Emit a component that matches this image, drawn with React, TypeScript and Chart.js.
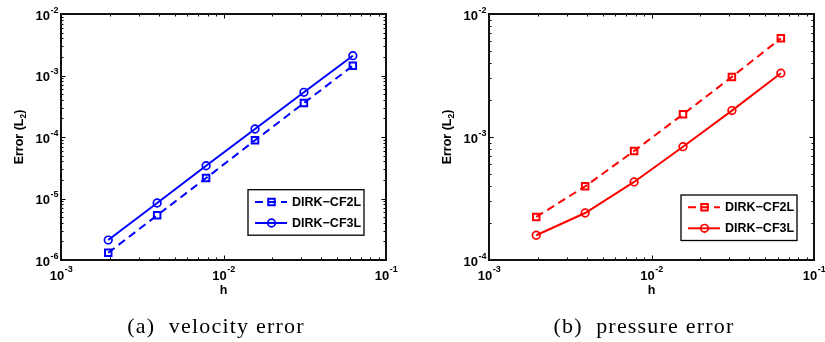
import React, { useEffect, useRef } from "react";
import { Chart, registerables } from "chart.js";

Chart.register(...registerables);

// ---------------- data ----------------
const hValues = [0.001953, 0.003906, 0.007813, 0.015625, 0.03125, 0.0625];
const velocityErrorCF2L = [1.31e-6, 5.33e-6, 2.15e-5, 8.83e-5, 3.57e-4, 1.44e-3];
const velocityErrorCF3L = [2.11e-6, 8.45e-6, 3.41e-5, 1.35e-4, 5.33e-4, 2.1e-3];
const pressureErrorCF2L = [2.24e-4, 3.97e-4, 7.69e-4, 1.53e-3, 3.08e-3, 6.34e-3];
const pressureErrorCF3L = [1.59e-4, 2.41e-4, 4.31e-4, 8.34e-4, 1.64e-3, 3.3e-3];
const seriesLabels = ["DIRK\u2212CF2L", "DIRK\u2212CF3L"];
const xTickExponents = [-3, -2, -1];
const velocityTickExponents = [-6, -5, -4, -3, -2];
const pressureTickExponents = [-4, -3, -2];
const xAxisTitle = "h";
const yAxisTitleMain = "Error (L";
const yAxisTitleSub = "2";
const yAxisTitleEnd = ")";
const captions = ["(a)  velocity error", "(b)  pressure error"];

const SANS = '"Liberation Sans", Arial, Helvetica, sans-serif';
const SERIF = '"Liberation Serif", "Times New Roman", serif';

const matlabAxesPlugin = {
  id: "matlabAxes",
  afterDraw(chart: any, _args: any, opts: any) {
    const ctx: any = chart.ctx;
    const { left, right, top, bottom } = chart.chartArea;
    const xs = chart.scales.x;
    const ys = chart.scales.y;
    const xe: number[] = opts.xExps;
    const ye: number[] = opts.yExps;
    ctx.save();

    // ticks (major + minor), mirrored on all sides
    ctx.strokeStyle = "#000";
    ctx.lineWidth = 1;
    ctx.beginPath();
    for (let i = 0; i < xe.length; i++) {
      for (let k = 1; k <= 9; k++) {
        if (i === xe.length - 1 && k > 1) break;
        const p = Math.round(xs.getPixelForValue(k * Math.pow(10, xe[i]))) + 0.5;
        const len = k === 1 ? 4.5 : 2.5;
        ctx.moveTo(p, bottom);
        ctx.lineTo(p, bottom - len);
        ctx.moveTo(p, top);
        ctx.lineTo(p, top + len);
      }
    }
    for (let i = 0; i < ye.length; i++) {
      for (let k = 1; k <= 9; k++) {
        if (i === ye.length - 1 && k > 1) break;
        const p = Math.round(ys.getPixelForValue(k * Math.pow(10, ye[i]))) + 0.5;
        const len = k === 1 ? 4.5 : 2.5;
        ctx.moveTo(left, p);
        ctx.lineTo(left + len, p);
        ctx.moveTo(right, p);
        ctx.lineTo(right - len, p);
      }
    }
    ctx.stroke();

    // frame
    ctx.lineWidth = 2;
    ctx.strokeStyle = "#111";
    ctx.strokeRect(left, top, right - left, bottom - top);

    // tick labels
    const baseFont = `bold 13px ${SANS}`;
    const expFont = `bold 9px ${SANS}`;
    ctx.fillStyle = "#000";
    ctx.textBaseline = "alphabetic";
    ctx.textAlign = "left";
    const measure = (e: number) => {
      ctx.font = baseFont;
      const wb = ctx.measureText("10").width;
      ctx.font = expFont;
      const we = ctx.measureText(String(e)).width;
      return [wb, we];
    };
    for (const e of xe) {
      const px = xs.getPixelForValue(Math.pow(10, e));
      const [wb, we] = measure(e);
      const x0 = px - (wb + we) / 2;
      ctx.font = baseFont;
      ctx.fillText("10", x0, bottom + 20);
      ctx.font = expFont;
      ctx.fillText(String(e), x0 + wb + 0.5, bottom + 11.5);
    }
    for (const e of ye) {
      const py = ys.getPixelForValue(Math.pow(10, e));
      const [wb, we] = measure(e);
      const x0 = left - 3 - (wb + we);
      ctx.font = baseFont;
      ctx.fillText("10", x0, py + 5.5);
      ctx.font = expFont;
      ctx.fillText(String(e), x0 + wb + 0.5, py - 1.5);
    }

    // x title
    ctx.font = `bold 12.5px ${SANS}`;
    ctx.textAlign = "center";
    ctx.fillText(opts.xTitle, (left + right) / 2, bottom + 33.5);

    // y title (rotated, with subscript)
    ctx.save();
    ctx.translate(left - opts.yTitleOffset, (top + bottom) / 2);
    ctx.rotate(-Math.PI / 2);
    ctx.textAlign = "left";
    ctx.font = `bold 12.5px ${SANS}`;
    const w1 = ctx.measureText(opts.yTitle[0]).width;
    const w3 = ctx.measureText(opts.yTitle[2]).width;
    ctx.font = `bold 8.5px ${SANS}`;
    const w2 = ctx.measureText(opts.yTitle[1]).width;
    let tx = -(w1 + w2 + w3) / 2;
    ctx.font = `bold 12.5px ${SANS}`;
    ctx.fillText(opts.yTitle[0], tx, 0);
    tx += w1;
    ctx.font = `bold 8.5px ${SANS}`;
    ctx.fillText(opts.yTitle[1], tx, 3);
    tx += w2;
    ctx.font = `bold 12.5px ${SANS}`;
    ctx.fillText(opts.yTitle[2], tx, 0);
    ctx.restore();

    // legend
    const lg = opts.legend;
    const bx = right + lg.dx;
    const by = bottom + lg.dy;
    ctx.fillStyle = "#fff";
    ctx.fillRect(bx, by, lg.w, lg.h);
    ctx.lineWidth = 1.3;
    ctx.strokeStyle = "#000";
    ctx.strokeRect(bx, by, lg.w, lg.h);
    const rows = [12.3, 33.3];
    chart.data.datasets.forEach((ds: any, i: number) => {
      const ry = by + rows[i];
      ctx.strokeStyle = ds.borderColor;
      ctx.lineWidth = ds.borderWidth;
      ctx.setLineDash(ds.borderDash || []);
      ctx.beginPath();
      ctx.moveTo(bx + 7, ry);
      ctx.lineTo(bx + 39, ry);
      ctx.stroke();
      ctx.setLineDash([]);
      const mx = bx + 23.5;
      ctx.lineWidth = ds.pointBorderWidth;
      ctx.beginPath();
      if (ds.pointStyle === "rect") {
        const s = Math.SQRT1_2 * ds.pointRadius;
        ctx.rect(mx - s, ry - s, 2 * s, 2 * s);
      } else {
        ctx.arc(mx, ry, ds.pointRadius, 0, Math.PI * 2);
      }
      ctx.stroke();
      ctx.fillStyle = "#000";
      ctx.font = `bold 12.5px ${SANS}`;
      ctx.textAlign = "left";
      ctx.textBaseline = "middle";
      ctx.fillText(ds.label, bx + 44, ry + 0.5);
      ctx.textBaseline = "alphabetic";
    });

    // caption
    ctx.fillStyle = "#000";
    ctx.font = `22px ${SERIF}`;
    ctx.letterSpacing = "1.2px";
    ctx.textAlign = "center";
    ctx.fillText(opts.caption, (left + right) / 2 + opts.captionDx, 333);
    ctx.letterSpacing = "0px";

    ctx.restore();
  },
};

function makeDataset(label: string, ys: number[], color: string, dashed: boolean) {
  return {
    label,
    data: hValues.map((h, i) => ({ x: h, y: ys[i] })),
    borderColor: color,
    backgroundColor: "rgba(0,0,0,0)",
    borderWidth: 2,
    borderDash: dashed ? [8, 5] : [],
    pointStyle: dashed ? "rect" : "circle",
    pointRadius: dashed ? 4.6 : 3.8,
    pointBorderWidth: dashed ? 2 : 1.7,
    pointBorderColor: color,
    pointBackgroundColor: "rgba(0,0,0,0)",
    tension: 0,
    fill: false,
  };
}

function makeConfig(
  cf2: number[],
  cf3: number[],
  color: string,
  yExps: number[],
  padding: any,
  legend: any,
  caption: string
): any {
  return {
    type: "line",
    data: {
      datasets: [makeDataset(seriesLabels[0], cf2, color, true), makeDataset(seriesLabels[1], cf3, color, false)],
    },
    options: {
      responsive: false,
      animation: false,
      devicePixelRatio: 1,
      layout: { padding },
      scales: {
        x: { type: "logarithmic", min: Math.pow(10, xTickExponents[0]), max: Math.pow(10, xTickExponents[xTickExponents.length - 1]), display: false },
        y: { type: "logarithmic", min: Math.pow(10, yExps[0]), max: Math.pow(10, yExps[yExps.length - 1]), display: false },
      },
      plugins: {
        legend: { display: false },
        tooltip: { enabled: false },
        matlabAxes: {
          xExps: xTickExponents,
          yExps,
          xTitle: xAxisTitle,
          yTitle: [yAxisTitleMain, yAxisTitleSub, yAxisTitleEnd],
          yTitleOffset: 38,
          legend,
          caption,
          captionDx: -7.5,
        },
      },
    },
    plugins: [matlabAxesPlugin],
  };
}

function Plot({ config, left, width }: { config: () => any; left: number; width: number }) {
  const ref = useRef<HTMLCanvasElement | null>(null);
  useEffect(() => {
    const chart = new Chart(ref.current as HTMLCanvasElement, config());
    return () => chart.destroy();
  }, []);
  return (
    <canvas
      ref={ref}
      width={width}
      height={342}
      style={{ position: "absolute", left, top: 0, width, height: 342 }}
    />
  );
}

export default function App() {
  return (
    <div style={{ position: "absolute", left: 0, top: 0, width: 825, height: 342, background: "#fff", overflow: "hidden" }}>
      <Plot
        left={0}
        width={412}
        config={() =>
          makeConfig(
            velocityErrorCF2L,
            velocityErrorCF3L,
            "#0000ff",
            velocityTickExponents,
            { left: 61, top: 14, right: 26, bottom: 82 },
            { dx: -138, dy: -70.3, w: 116, h: 45.5 },
            captions[0]
          )
        }
      />
      <Plot
        left={412}
        width={413}
        config={() =>
          makeConfig(
            pressureErrorCF2L,
            pressureErrorCF3L,
            "#ff0000",
            pressureTickExponents,
            { left: 77, top: 14, right: 11, bottom: 82 },
            { dx: -133, dy: -65, w: 116, h: 45.5 },
            captions[1]
          )
        }
      />
    </div>
  );
}
